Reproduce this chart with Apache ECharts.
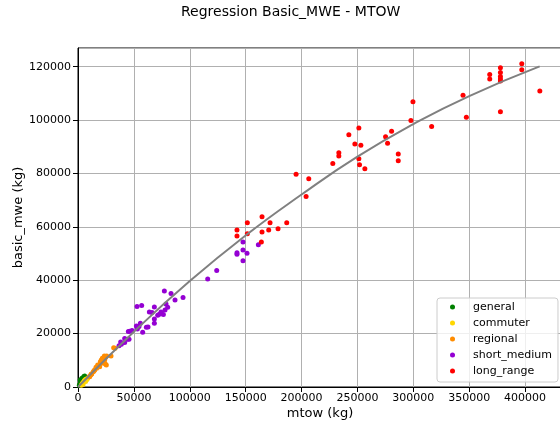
<!DOCTYPE html>
<html>
<head>
<meta charset="utf-8">
<script src="https://cdn.jsdelivr.net/npm/echarts@6/dist/echarts.min.js"></script>
<style>
  html, body { margin: 0; padding: 0; background: #fff; }
  #chart { width: 560px; height: 429px; }
</style>
</head>
<body>
<div id="chart"></div>
<script>
// values: [mtow, basic_mwe]
var general = [[1200,700],[1800,1100],[2300,1700],[2800,1500],[3200,2200],[3800,2600],[4300,3000],[4800,3500],[5300,3900],[2000,2600],[3500,3300],[6000,4100]];
var commuter = [[3000,700],[3600,1100],[4200,1500],[5000,1900],[5600,2300],[6300,2600],[7000,2900],[7800,2700],[8500,3200],[4500,900],[6800,2100]];
var regional = [[9843,3875],[10440,3875],[11336,4500],[11932,4875],[12230,4875],[13720,5750],[14318,6125],[14915,6375],
  [16107,7375],[16704,7000],[17599,8250],[19090,7875],[19390,7625],[19985,9500],[20881,10125],[21177,8875],
  [21774,10750],[22372,10750],[23266,10125],[23564,11625],[24460,8625],[24758,11125],[25355,8250],[25652,11625],
  [29530,11625],[31918,14750],[33110,14500],[23860,10125]];
var shortMedium = [[36691,15500],[38182,16875],[38779,16000],[41762,16625],[41762,18125],[44447,17875],[45640,17875],
  [45043,20750],[46237,20875],[48325,21125],[52203,22875],[53098,21750],[54589,22625],[55782,23875],[57870,20500],
  [61151,22375],[62643,22500],[68311,23875],[68311,25500],[71294,26875],[72785,27250],[76365,27125],[74276,28125],
  [77856,28875],[80242,29875],[78751,31125],[63836,28125],[66222,27875],[68311,30000],[52800,30125],[56975,30500],
  [86805,32625],[93964,33500],[83226,35000],[77260,36000],[116039,40500],[124093,43625],[142234,50278],[142234,49776],
  [147610,54290],[147610,51280],[147610,47268],[151195,50152],[161351,53287]];
var longRange = [[142234,58805],[142234,56548],[151494,61564],[151494,57426],[164636,63820],[164636,58052],[164038,54290],
  [171805,61564],[170610,58805],[178974,59307],[186740,61564],[195104,79747],[206454,77992],[204065,71346],
  [227961,83760],[233338,87773],[233338,86519],[242299,94545],[247675,91033],[251259,97052],[253051,90532],
  [251259,85516],[251857,83259],[256636,81753],[275155,93792],[276947,91284],[280531,95798],[286505,87271],
  [286505,84763],[297855,99811],[299648,106834],[316375,97553],[344452,109341],[347439,101065],[368348,117116],
  [368348,115360],[377906,119624],[377906,117868],[377906,116363],[377906,115360],[377906,114608],[377906,103071],
  [397023,121129],[397023,118871],[413153,110846]];
// regression curve, points
var fitX = [0, 50000, 100000, 150000, 200000, 250000, 300000, 350000, 413000];
var fitY = [0, 20700, 39700, 56800, 72100, 86300, 98500, 109000, 120100];

var seriesNames = ['general', 'commuter', 'regional', 'short_medium', 'long_range'];
var seriesData = [general, commuter, regional, shortMedium, longRange];
var seriesColors = ['#008000', '#ffd700', '#ff8c00', '#9400d3', '#ff0000'];

var font = 'DejaVu Sans';
var myChart = echarts.init(document.getElementById('chart'), null, { renderer: 'canvas' });

var series = seriesNames.map(function (n, i) {
  return {
    name: n, type: 'scatter', data: seriesData[i],
    symbolSize: 5, itemStyle: { color: seriesColors[i], opacity: 1 },
    emphasis: { disabled: true }, z: 2
  };
});
series.push({
  name: 'fit', type: 'line', smooth: true, showSymbol: false,
  data: fitX.map(function (x, i) { return [x, fitY[i]]; }),
  lineStyle: { color: '#808080', width: 2 }, z: 3, silent: true
});

function plain(v) { return String(v); }

var option = {
  animation: false,
  textStyle: { fontFamily: font },
  title: {
    text: 'Regression Basic_MWE - MTOW', left: 181, top: 5, padding: 0,
    textStyle: { fontFamily: font, fontSize: 14, fontWeight: 'normal', color: '#000' }
  },
  grid: { left: 78, top: 48, right: -2, bottom: 42, outerBoundsMode: 'none', containLabel: false,
    show: true, borderColor: '#000', borderWidth: 1, backgroundColor: 'transparent' },
  legend: {
    data: seriesNames, orient: 'vertical', left: 437, top: 298,
    icon: 'circle', itemWidth: 31, itemHeight: 5, itemGap: 0,
    padding: [1, 6, 3, 13],
    backgroundColor: 'rgba(255,255,255,0.8)', borderColor: '#cccccc', borderWidth: 1, borderRadius: 3,
    textStyle: { fontFamily: font, fontSize: 11, color: '#000', lineHeight: 16 }
  },
  xAxis: {
    type: 'value', min: 0, max: 433000, interval: 50000,
    name: 'mtow (kg)', nameLocation: 'middle', nameGap: 20, nameMoveOverlap: false,
    nameTextStyle: { fontFamily: font, fontSize: 13, color: '#000' },
    axisLine: { show: true, lineStyle: { color: '#000', width: 1 } },
    axisTick: { show: true, length: 5, lineStyle: { color: '#000' } },
    axisLabel: { fontFamily: font, fontSize: 11, color: '#000', margin: 6, showMaxLabel: false, formatter: plain },
    splitLine: { show: true, lineStyle: { color: '#b0b0b0', width: 1 } }
  },
  yAxis: {
    type: 'value', min: 0, max: 127000, interval: 20000,
    name: 'basic_mwe (kg)', nameLocation: 'middle', nameGap: 53, nameMoveOverlap: false,
    nameTextStyle: { fontFamily: font, fontSize: 13, color: '#000' },
    axisLine: { show: true, lineStyle: { color: '#000', width: 1 } },
    axisTick: { show: true, length: 5, lineStyle: { color: '#000' } },
    axisLabel: { fontFamily: font, fontSize: 11, color: '#000', margin: 7, showMaxLabel: false, formatter: plain },
    splitLine: { show: true, lineStyle: { color: '#b0b0b0', width: 1 } }
  },
  series: series
};
myChart.setOption(option);
</script>
</body>
</html>
